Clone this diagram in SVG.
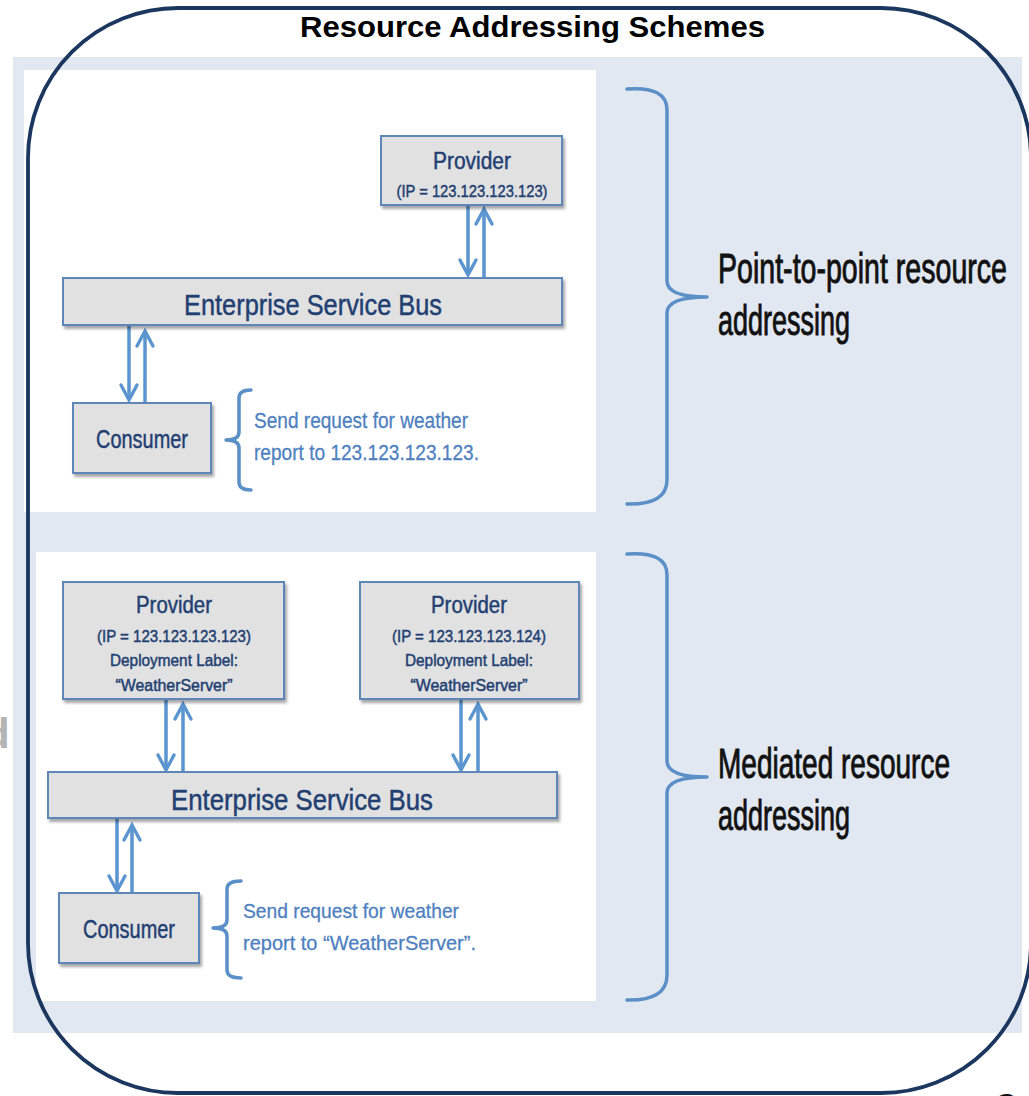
<svg xmlns="http://www.w3.org/2000/svg" width="1029" height="1096" viewBox="0 0 1029 1096">
<style>
.box{fill:#e1e1e1;stroke:#5f86b8;stroke-width:2;filter:url(#sh)}
.bt{font-family:"Liberation Sans",Arial,sans-serif;fill:#223f72;stroke:#223f72;stroke-width:0.45;text-anchor:middle}
.note{font-family:"Liberation Sans",Arial,sans-serif;fill:#4f81c0;stroke:#4f81c0;stroke-width:0.3}
.big{font-family:"Liberation Sans",Arial,sans-serif;fill:#111;stroke:#111;stroke-width:0.9;font-size:42px}
.brace{fill:none;stroke:#5b8fc8;stroke-width:3.5;stroke-linecap:round;stroke-linejoin:round}
.arr{fill:none;stroke:#5b95d0;stroke-width:3.5;marker-end:url(#ah)}
</style>
<defs>
<filter id="sh" x="-10%" y="-10%" width="130%" height="140%">
<feDropShadow dx="2" dy="3" stdDeviation="1.5" flood-color="#000" flood-opacity="0.35"/>
</filter>
<marker id="ah" markerUnits="userSpaceOnUse" markerWidth="22" markerHeight="22" viewBox="-3 -11 22 22" refX="15" refY="0" orient="auto">
<path d="M0,-8 L15,0 L0,8" fill="none" stroke="#5b95d0" stroke-width="3.4" stroke-linecap="round" stroke-linejoin="miter"/>
</marker>
</defs>

<g id="background">
<rect x="0" y="0" width="1029" height="1096" fill="#ffffff"/>
<rect x="13" y="57" width="1009" height="976" fill="#e1e8f2"/>
<rect x="24" y="70" width="572" height="442" fill="#ffffff"/>
<rect x="36" y="552" width="560" height="449" fill="#ffffff"/>
<text x="-16" y="748" font-family="Liberation Sans, Arial, sans-serif" font-weight="bold" font-size="42" fill="#b4b4b4">d</text>
<text x="995" y="1114" font-family="Liberation Sans, Arial, sans-serif" font-weight="bold" font-size="30" fill="#111">C</text>
</g>

<g id="frame">
<rect x="28" y="8" width="1003" height="1085" rx="150" ry="150" fill="none" stroke="#1b365f" stroke-width="3.8"/>
<text x="300" y="37" font-family="Liberation Sans, Arial, sans-serif" font-weight="bold" font-size="30" fill="#000" textLength="465" lengthAdjust="spacingAndGlyphs">Resource Addressing Schemes</text>
</g>

<g id="connectors">
<line class="arr" x1="468" y1="206" x2="468" y2="275"/>
<line class="arr" x1="484" y1="277" x2="484" y2="209"/>
<line class="arr" x1="129" y1="326" x2="129" y2="400"/>
<line class="arr" x1="145" y1="403" x2="145" y2="331"/>
<line class="arr" x1="166" y1="700" x2="166" y2="770"/>
<line class="arr" x1="183" y1="772" x2="183" y2="704"/>
<line class="arr" x1="461" y1="700" x2="461" y2="770"/>
<line class="arr" x1="478" y1="772" x2="478" y2="704"/>
<line class="arr" x1="117" y1="819" x2="117" y2="891"/>
<line class="arr" x1="132" y1="893" x2="132" y2="825"/>
</g>

<g id="provider-p2p">
<rect class="box" x="381" y="136" width="181" height="69"/>
<text class="bt" x="472" y="169" font-size="23" textLength="78" lengthAdjust="spacingAndGlyphs">Provider</text>
<text class="bt" x="472" y="197" font-size="17" textLength="151" lengthAdjust="spacingAndGlyphs">(IP = 123.123.123.123)</text>
</g>

<g id="esb-p2p">
<rect class="box" x="63" y="278" width="499" height="47"/>
<text class="bt" x="313" y="315" font-size="30" textLength="258" lengthAdjust="spacingAndGlyphs">Enterprise Service Bus</text>
</g>

<g id="consumer-p2p">
<rect class="box" x="73" y="403" width="138" height="70"/>
<text class="bt" x="142" y="448" font-size="26" textLength="92" lengthAdjust="spacingAndGlyphs">Consumer</text>
</g>

<g id="note-p2p">
<path class="brace" d="M251,390 Q239,390 239,398 L239,432 Q239,440 226,440 Q239,440 239,448 L239,482 Q239,490 251,490"/>
<text class="note" x="254" y="428" font-size="22" textLength="214" lengthAdjust="spacingAndGlyphs">Send request for weather</text>
<text class="note" x="254" y="460" font-size="22" textLength="225" lengthAdjust="spacingAndGlyphs">report to 123.123.123.123.</text>
</g>

<g id="label-p2p">
<path class="brace" d="M627,89 Q667,86 667,110 L667,281 Q667,297 707,297 Q667,297 667,313 L667,480 Q667,505 627,504"/>
<text class="big" x="718" y="283" textLength="289" lengthAdjust="spacingAndGlyphs">Point-to-point resource</text>
<text class="big" x="718" y="335" textLength="132" lengthAdjust="spacingAndGlyphs">addressing</text>
</g>

<g id="provider-a">
<rect class="box" x="63" y="582" width="221" height="117"/>
<text class="bt" x="174" y="613" font-size="23" textLength="76" lengthAdjust="spacingAndGlyphs">Provider</text>
<text class="bt" x="174" y="642" font-size="16" textLength="154" lengthAdjust="spacingAndGlyphs">(IP = 123.123.123.123)</text>
<text class="bt" x="174" y="666" font-size="16" textLength="128" lengthAdjust="spacingAndGlyphs">Deployment Label:</text>
<text class="bt" x="174" y="691" font-size="16" textLength="117" lengthAdjust="spacingAndGlyphs">“WeatherServer”</text>
</g>

<g id="provider-b">
<rect class="box" x="360" y="582" width="219" height="117"/>
<text class="bt" x="469" y="613" font-size="23" textLength="76" lengthAdjust="spacingAndGlyphs">Provider</text>
<text class="bt" x="469" y="642" font-size="16" textLength="154" lengthAdjust="spacingAndGlyphs">(IP = 123.123.123.124)</text>
<text class="bt" x="469" y="666" font-size="16" textLength="128" lengthAdjust="spacingAndGlyphs">Deployment Label:</text>
<text class="bt" x="469" y="691" font-size="16" textLength="117" lengthAdjust="spacingAndGlyphs">“WeatherServer”</text>
</g>

<g id="esb-mediated">
<rect class="box" x="48" y="772" width="509" height="46"/>
<text class="bt" x="302" y="810" font-size="29" textLength="262" lengthAdjust="spacingAndGlyphs">Enterprise Service Bus</text>
</g>

<g id="consumer-mediated">
<rect class="box" x="59" y="893" width="140" height="70"/>
<text class="bt" x="129" y="938" font-size="25" textLength="92" lengthAdjust="spacingAndGlyphs">Consumer</text>
</g>

<g id="note-mediated">
<path class="brace" d="M241,881 Q227,881 227,889 L227,920 Q227,928 213,928 Q227,928 227,936 L227,970 Q227,978 241,978"/>
<text class="note" x="243" y="918" font-size="21" textLength="216" lengthAdjust="spacingAndGlyphs">Send request for weather</text>
<text class="note" x="243" y="950" font-size="21" textLength="233" lengthAdjust="spacingAndGlyphs">report to “WeatherServer”.</text>
</g>

<g id="label-mediated">
<path class="brace" d="M627,554 Q667,551 667,575 L667,761 Q667,777 707,777 Q667,777 667,793 L667,975 Q667,1001 627,1000"/>
<text class="big" x="718" y="778" textLength="232" lengthAdjust="spacingAndGlyphs">Mediated resource</text>
<text class="big" x="718" y="830" textLength="132" lengthAdjust="spacingAndGlyphs">addressing</text>
</g>
</svg>
